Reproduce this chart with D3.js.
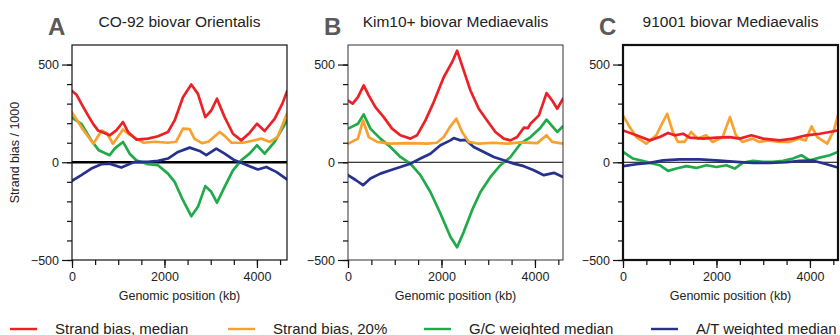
<!DOCTYPE html>
<html>
<head>
<meta charset="utf-8">
<script src="https://cdn.jsdelivr.net/npm/d3@7"></script>
<style>
  html, body { margin: 0; padding: 0; background: #fff; }
  svg { display: block; font-family: "Liberation Sans", Arial, sans-serif; }
</style>
</head>
<body>
<svg id="chart" width="840" height="335"></svg>
<script>
// ---------- DATA (genomic position kb, strand bias / 1000) ----------
const panelLetters = ["A", "B", "C"];
const panelTitles = ["CO-92 biovar Orientalis", "Kim10+ biovar Mediaevalis", "91001 biovar Mediaevalis"];
const genomeLengths = [4650, 4600, 4600];
const yTickLabels = [-500, 0, 500];
const xTickLabels = [0, 2000, 4000];
const seriesNames = ["Strand bias, median", "Strand bias, 20%", "G/C weighted median", "A/T weighted median"];
const seriesColors = ["#ec2128", "#f7a230", "#21aa4a", "#27318e"];

// Panel A
const aMedian = [[0,365],[100,345],[202,300],[346,240],[460,195],[562,163],[700,150],[814,138],[958,163],[1103,206],[1211,155],[1391,116],[1643,121],[1860,133],[2076,155],[2220,214],[2400,333],[2580,398],[2724,350],[2883,231],[3012,265],[3135,325],[3301,231],[3481,146],[3660,112],[3840,150],[4000,197],[4166,160],[4382,222],[4550,300],[4650,362]];
const aPct20 = [[0,255],[202,180],[461,95],[642,163],[750,150],[887,95],[1103,168],[1250,140],[1405,120],[1550,100],[1800,105],[2076,100],[2250,105],[2400,172],[2545,170],[2650,120],[2811,98],[2950,105],[3193,155],[3301,135],[3450,100],[3700,100],[3900,110],[4094,121],[4280,104],[4450,130],[4650,250]];
const aGC = [[0,228],[202,197],[418,112],[580,61],[814,36],[922,70],[1103,104],[1247,44],[1391,10],[1643,-10],[1860,-15],[2076,-58],[2220,-100],[2400,-194],[2580,-276],[2724,-228],[2883,-122],[3012,-151],[3135,-207],[3301,-126],[3481,-41],[3660,10],[3840,44],[4000,87],[4166,44],[4382,104],[4650,214]];
const aAT = [[0,-95],[202,-66],[418,-32],[634,-10],[814,-7],[1067,-27],[1355,2],[1643,2],[1860,7],[2076,19],[2292,53],[2545,75],[2760,58],[2905,36],[3120,70],[3301,44],[3517,10],[3660,-3],[3840,-20],[4022,-37],[4202,-24],[4418,-49],[4650,-88]];

// Panel B
const bMedian = [[0,316],[100,300],[213,333],[336,393],[443,342],[586,282],[764,231],[942,172],[1121,138],[1335,121],[1477,138],[1656,214],[1834,308],[2048,435],[2227,512],[2334,571],[2477,469],[2620,367],[2798,274],[2976,214],[3154,155],[3333,121],[3476,112],[3619,129],[3762,177],[3850,175],[3905,197],[4084,240],[4248,354],[4369,316],[4476,274],[4600,325]];
const bPct20 = [[0,95],[213,121],[322,214],[443,129],[621,104],[900,95],[1300,98],[1700,95],[1900,100],[2048,129],[2191,184],[2319,223],[2441,155],[2584,104],[2800,95],[3100,100],[3400,95],[3700,102],[4050,98],[4248,138],[4369,104],[4600,95]];
const bGC = [[0,172],[213,197],[336,245],[479,172],[693,121],[907,78],[1121,27],[1335,-7],[1549,-66],[1763,-152],[1977,-262],[2191,-381],[2334,-435],[2477,-356],[2655,-245],[2834,-152],[3048,-75],[3262,-15],[3476,27],[3690,95],[3905,129],[4119,177],[4248,218],[4476,155],[4600,184]];
const bAT = [[0,-66],[172,-92],[322,-117],[479,-83],[693,-58],[907,-41],[1121,-24],[1335,-7],[1549,19],[1763,44],[1977,87],[2191,112],[2262,124],[2405,112],[2512,115],[2691,78],[2905,53],[3119,27],[3333,10],[3547,-7],[3762,-20],[3976,-41],[4191,-66],[4405,-54],[4600,-75]];

// Panel C
const cMedian = [[0,163],[285,138],[571,112],[785,129],[964,150],[1107,138],[1285,146],[1428,126],[1713,121],[1999,126],[2283,129],[2497,121],[2747,138],[2997,121],[3353,112],[3638,121],[3924,138],[4210,146],[4423,155],[4600,163]];
const cPct20 = [[0,240],[143,180],[285,129],[498,95],[711,138],[853,206],[945,248],[1066,155],[1173,104],[1315,104],[1457,155],[1600,121],[1777,138],[1919,104],[2132,129],[2288,231],[2416,138],[2558,104],[2771,121],[2913,104],[3126,112],[3339,104],[3552,104],[3765,121],[3907,112],[4035,184],[4156,129],[4369,95],[4511,163],[4600,240]];
const cGC = [[0,53],[214,19],[500,2],[785,-15],[964,-44],[1142,-32],[1356,-20],[1570,-29],[1785,-15],[1999,-24],[2212,-15],[2390,-32],[2568,-2],[2782,7],[2997,2],[3211,2],[3425,7],[3638,19],[3817,36],[3995,10],[4210,24],[4423,36],[4600,53]];
const cAT = [[0,-20],[285,-10],[571,-3],[856,10],[1214,15],[1642,15],[2069,8],[2426,2],[2782,-3],[3140,-3],[3496,0],[3781,7],[4067,8],[4281,-5],[4600,-27]];

const panelSeries = [
  [aMedian, aPct20, aGC, aAT],
  [bMedian, bPct20, bGC, bAT],
  [cMedian, cPct20, cGC, cAT]
];

// ---------- LAYOUT ----------
const svg = d3.select("#chart");
const plotLefts = [72, 348, 623];
const plotW = 215;
const plotTop = 45, plotBottom = 260;
const zeroLineWidths = [2.5, 1, 1];
const frameWidths = [1.2, 1, 2.2];
const frameColors = ["#111", "#333", "#111"];

const y = d3.scaleLinear().domain([-500, 600]).range([plotBottom, plotTop]);

panelLetters.forEach((letter, i) => {
  const left = plotLefts[i];
  const x = d3.scaleLinear().domain([0, genomeLengths[i]]).range([left, left + plotW]);
  const g = svg.append("g");

  // letter and title
  g.append("text").attr("x", left - 24).attr("y", 35)
    .attr("font-size", 24).attr("font-weight", "bold").attr("fill", "#5a5a5a")
    .text(letter);
  g.append("text").attr("x", left + plotW / 2).attr("y", 27)
    .attr("text-anchor", "middle").attr("font-size", 15.5).attr("fill", "#222")
    .text(panelTitles[i]);

  // clip for lines
  const clipId = "clip" + i;
  svg.append("clipPath").attr("id", clipId).append("rect")
    .attr("x", left).attr("y", plotTop).attr("width", plotW).attr("height", plotBottom - plotTop);

  // zero line
  g.append("line").attr("x1", left).attr("x2", left + plotW)
    .attr("y1", y(0)).attr("y2", y(0))
    .attr("stroke", "#000").attr("stroke-width", zeroLineWidths[i]);

  // series lines
  const line = d3.line().x(d => x(d[0])).y(d => y(d[1])).curve(d3.curveLinear);
  const order = [2, 3, 1, 0];
  order.forEach(s => {
    g.append("path").datum(panelSeries[i][s])
      .attr("clip-path", `url(#${clipId})`)
      .attr("d", line).attr("fill", "none")
      .attr("stroke", seriesColors[s]).attr("stroke-width", 2.7)
      .attr("stroke-linejoin", "round").attr("stroke-linecap", "round");
  });

  // frame
  g.append("rect").attr("x", left).attr("y", plotTop)
    .attr("width", plotW).attr("height", plotBottom - plotTop)
    .attr("fill", "none").attr("stroke", frameColors[i]).attr("stroke-width", frameWidths[i]);

  // y axis: minor ticks every 100, major at labels
  const yMinor = d3.range(-500, 501, 100);
  const yAxisMinor = d3.axisLeft(y).tickValues(yMinor).tickSize(5).tickFormat("");
  const ga = g.append("g").attr("transform", `translate(${left},0)`).call(yAxisMinor);
  ga.select(".domain").remove();
  ga.selectAll("line").attr("stroke", "#111").attr("stroke-width", 1.2);
  const yAxisMajor = d3.axisLeft(y).tickValues(yTickLabels).tickSize(10).tickPadding(3).tickFormat(d3.format("d"));
  const gb = g.append("g").attr("transform", `translate(${left},0)`).call(yAxisMajor);
  gb.select(".domain").remove();
  gb.selectAll("line").attr("stroke", "#111").attr("stroke-width", 1.2);
  gb.selectAll("text").attr("font-size", 12.5).attr("fill", "#222")
    .attr("font-family", "'Liberation Sans', Arial, sans-serif");

  // x axis: minor every 500, major at labels
  const xMinor = d3.range(0, genomeLengths[i] + 1, 500);
  const xAxisMinor = d3.axisBottom(x).tickValues(xMinor).tickSize(5).tickFormat("");
  const gc = g.append("g").attr("transform", `translate(0,${plotBottom})`).call(xAxisMinor);
  gc.select(".domain").remove();
  gc.selectAll("line").attr("stroke", "#111").attr("stroke-width", 1.2);
  const xAxisMajor = d3.axisBottom(x).tickValues(xTickLabels).tickSize(8).tickPadding(4).tickFormat(d3.format("d"));
  const gd = g.append("g").attr("transform", `translate(0,${plotBottom})`).call(xAxisMajor);
  gd.select(".domain").remove();
  gd.selectAll("line").attr("stroke", "#111").attr("stroke-width", 1.2);
  gd.selectAll("text").attr("font-size", 12.5).attr("fill", "#222")
    .attr("font-family", "'Liberation Sans', Arial, sans-serif");

  // x label
  g.append("text").attr("x", left + plotW / 2).attr("y", 300)
    .attr("text-anchor", "middle").attr("font-size", 12.5).attr("fill", "#222")
    .text("Genomic position (kb)");
});

// y label
svg.append("text")
  .attr("transform", `translate(19,${(plotTop + plotBottom) / 2}) rotate(-90)`)
  .attr("text-anchor", "middle").attr("font-size", 12.5).attr("fill", "#222")
  .text("Strand bias / 1000");

// legend
const legendX = [10, 228, 424, 651];
seriesNames.forEach((name, s) => {
  const lg = svg.append("g");
  lg.append("line").attr("x1", legendX[s]).attr("x2", legendX[s] + 27)
    .attr("y1", 329).attr("y2", 329)
    .attr("stroke", seriesColors[s]).attr("stroke-width", 2.4);
  lg.append("text").attr("x", legendX[s] + 45).attr("y", 333.5)
    .attr("font-size", 15).attr("fill", "#222").text(name);
});
</script>
</body>
</html>
